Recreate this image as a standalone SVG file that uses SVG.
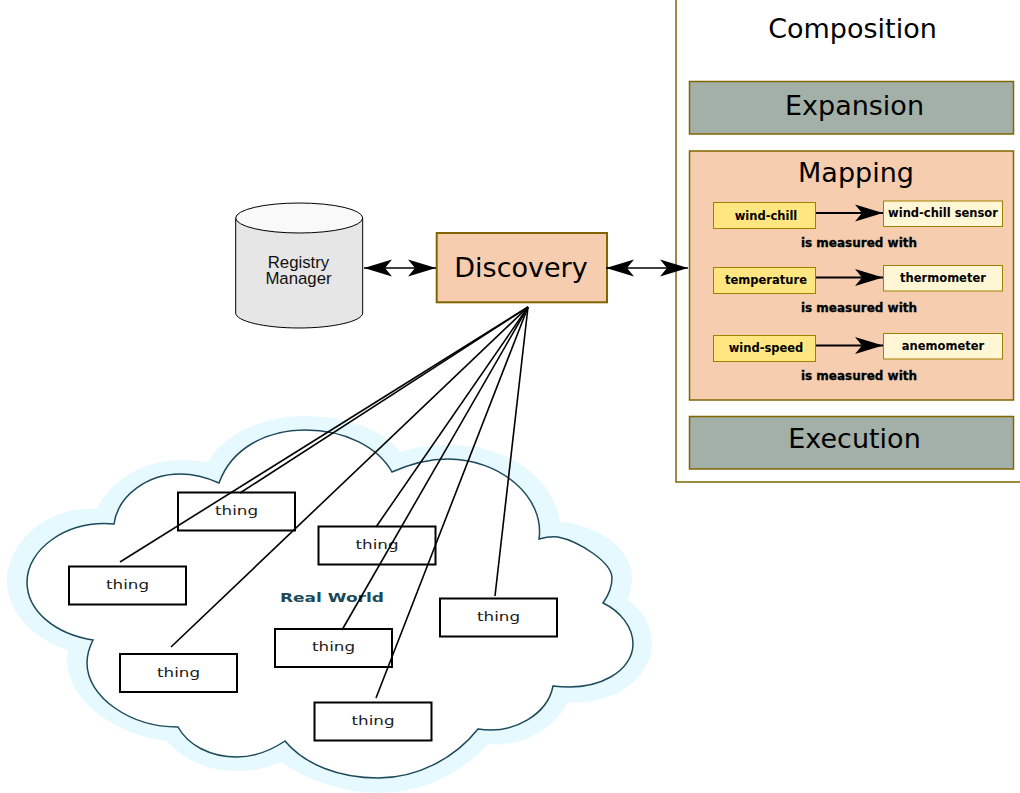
<svg xmlns="http://www.w3.org/2000/svg" width="1020" height="793" viewBox="0 0 1020 793">
<style>
text{font-family:"DejaVu Sans",sans-serif;text-anchor:middle;fill:#000}
.big{font-size:27px}
.th{fill:#fff;stroke:#000;stroke-width:2}
.thl{font-size:13px;fill:#1a1a1a}
.panel{stroke:#806600;stroke-width:2}
.gr{fill:#a3b0a8}
.pe{fill:#f6cdae}
.ye{fill:#ffe680;stroke:#a08000;stroke-width:1}
.cr{fill:#fff6d5;stroke:#a08000;stroke-width:1}
.m{font-size:11.5px;font-weight:bold}
.im{font-size:12px;font-weight:bold;stroke:#000;stroke-width:.3}
.ln{stroke:#000;stroke-width:1.6;fill:none}
.ar{stroke:#000;stroke-width:2;fill:none;marker-end:url(#h)}
.da{stroke:#000;stroke-width:1.6;fill:none;marker-start:url(#hs);marker-end:url(#h)}
.reg{font-family:"Liberation Sans",sans-serif;font-size:16.8px;fill:#111}
</style>
<defs>
<marker id="h" markerUnits="userSpaceOnUse" markerWidth="30" markerHeight="20" refX="28" refY="10" orient="auto"><path d="M28,10 L0,1.5 L7,10 L0,18.5Z" fill="#000"/></marker>
<marker id="hs" markerUnits="userSpaceOnUse" markerWidth="30" markerHeight="20" refX="0" refY="10" orient="auto"><path d="M0,10 L28,1.5 L21,10 L28,18.5Z" fill="#000"/></marker>
</defs>

<g id="cloud">
<path fill="#e6f9ff" d="M208,462 C224,433 265,416 305,416 C345,416 385,430 400,452 C417,447 432,445 450,445 C510,445 555,480 560,522 C600,525 632,550 632,577 C632,585 630,593 628,600 C642,610 652,625 652,643 C652,680 610,706 568,702 C555,728 522,748 488,744 C460,775 420,793 380,793 C345,793 305,780 282,762 C267,768 252,771 237,771 C205,771 182,758 167,741 C115,735 67,700 67,660 L68,650 C35,640 7,612 7,582 C7,540 50,505 97,509 C110,480 145,460 180,460 C190,460 200,461 208,462Z"/>
<path fill="#fff" stroke="#1c4a5a" stroke-width="1.5" d="M219,483 C232,447 268,430 305,430 C345,430 378,447 392,472 C410,464 430,459 448,459 C500,459 545,497 539,539 C546,537 552,536 558,537 C578,541 612,562 612,578 C612,588 608,596 603,603 C620,611 633,627 633,644 C633,670 600,692 553,686 C548,713 515,735 478,729 C455,758 418,778 378,778 C340,778 305,765 285,741 C270,751 255,757 237,757 C210,757 188,745 178,727 C130,727 87,697 87,663 C87,655 89,648 93,640 C55,634 27,611 27,582 C27,550 65,520 114,524 C118,495 148,474 180,474 C195,474 208,478 219,483Z"/>
<text x="332" y="602" font-size="12" font-weight="bold" style="fill:#1c4a5a" textLength="104" lengthAdjust="spacingAndGlyphs">Real World</text>
</g>

<g id="thing1"><rect class="th" x="69" y="566.5" width="117" height="38"/><text class="thl" x="127.500" y="589" textLength="43" lengthAdjust="spacingAndGlyphs">thing</text></g>
<g id="thing2"><rect class="th" x="178" y="492.500" width="117" height="38"/><text class="thl" x="236.500" y="515" textLength="43" lengthAdjust="spacingAndGlyphs">thing</text></g>
<g id="thing3"><rect class="th" x="318.500" y="526.500" width="117" height="38"/><text class="thl" x="377" y="549" textLength="43" lengthAdjust="spacingAndGlyphs">thing</text></g>
<g id="thing4"><rect class="th" x="120" y="654" width="117" height="38"/><text class="thl" x="178.500" y="677" textLength="43" lengthAdjust="spacingAndGlyphs">thing</text></g>
<g id="thing5"><rect class="th" x="275" y="629" width="117" height="38"/><text class="thl" x="333.500" y="651" textLength="43" lengthAdjust="spacingAndGlyphs">thing</text></g>
<g id="thing6"><rect class="th" x="440" y="598.500" width="117" height="38"/><text class="thl" x="498.500" y="621" textLength="43" lengthAdjust="spacingAndGlyphs">thing</text></g>
<g id="thing7"><rect class="th" x="314.500" y="702.500" width="117" height="38"/><text class="thl" x="373" y="725" textLength="43" lengthAdjust="spacingAndGlyphs">thing</text></g>

<g id="registry">
<path d="M235.700,218 V313 C235.700,321 264,328 299,328 C334,328 362.700,321 362.700,313 V218Z" fill="#e6e6e6" stroke="#000" stroke-width="1"/>
<ellipse cx="299.200" cy="218" rx="63.500" ry="15" fill="#f9f9f9" stroke="#000" stroke-width="1"/>
<text class="reg" x="298.500" y="268">Registry</text>
<text class="reg" x="298.500" y="284">Manager</text>
</g>

<g id="discovery"><rect class="pe panel" x="436.700" y="233" width="170.300" height="69.300"/><text class="big" x="521" y="277">Discovery</text></g>

<g id="composition">
<path d="M676,0 V482 H1020" fill="none" stroke="#806600" stroke-width="1.500"/>
<text class="big" x="852.500" y="38">Composition</text>
</g>
<g id="expansion"><rect class="gr panel" x="689.500" y="81.500" width="324" height="52.500" style="stroke-width:1.500"/><text class="big" x="854.500" y="115">Expansion</text></g>
<g id="mapping"><rect class="pe panel" x="689.500" y="151" width="324" height="249" style="stroke-width:1.500"/><text class="big" x="856" y="182">Mapping</text></g>
<g id="execution"><rect class="gr panel" x="689.500" y="416.500" width="324" height="52.500" style="stroke-width:1.500"/><text class="big" x="854.500" y="448">Execution</text></g>

<g id="windchill"><rect class="ye" x="713.500" y="202.500" width="102" height="26"/><text class="m" x="766" y="220">wind-chill</text></g>
<g id="windchillsensor"><rect class="cr" x="883.500" y="201" width="119" height="25.500"/><text class="m" x="943" y="217">wind-chill sensor</text></g>
<g id="temperature"><rect class="ye" x="713.500" y="267.500" width="102" height="26"/><text class="m" x="766" y="284">temperature</text></g>
<g id="thermometer"><rect class="cr" x="883.500" y="265.500" width="119" height="25.500"/><text class="m" x="943" y="282">thermometer</text></g>
<g id="windspeed"><rect class="ye" x="713.500" y="335.500" width="102" height="26"/><text class="m" x="766" y="352">wind-speed</text></g>
<g id="anemometer"><rect class="cr" x="883.500" y="333.500" width="119" height="25.500"/><text class="m" x="943" y="350">anemometer</text></g>
<text class="im" x="859" y="247">is measured with</text>
<text class="im" x="859" y="312">is measured with</text>
<text class="im" x="859" y="380">is measured with</text>

<g id="connectors">
<path class="ln" d="M528,307 L120,562"/>
<path class="ln" d="M528,307 L240,493"/>
<path class="ln" d="M528,307 L171,647"/>
<path class="ln" d="M528,307 L376,527"/>
<path class="ln" d="M528,307 L342,630"/>
<path class="ln" d="M528,307 L376,698"/>
<path class="ln" d="M528,307 L495,596"/>
<path class="da" d="M364,268 H436"/>
<path class="da" d="M606,268 H688"/>
<path class="ar" d="M816,213 H883"/>
<path class="ar" d="M816,277.500 H883"/>
<path class="ar" d="M816,345.500 H883"/>
</g>
</svg>
